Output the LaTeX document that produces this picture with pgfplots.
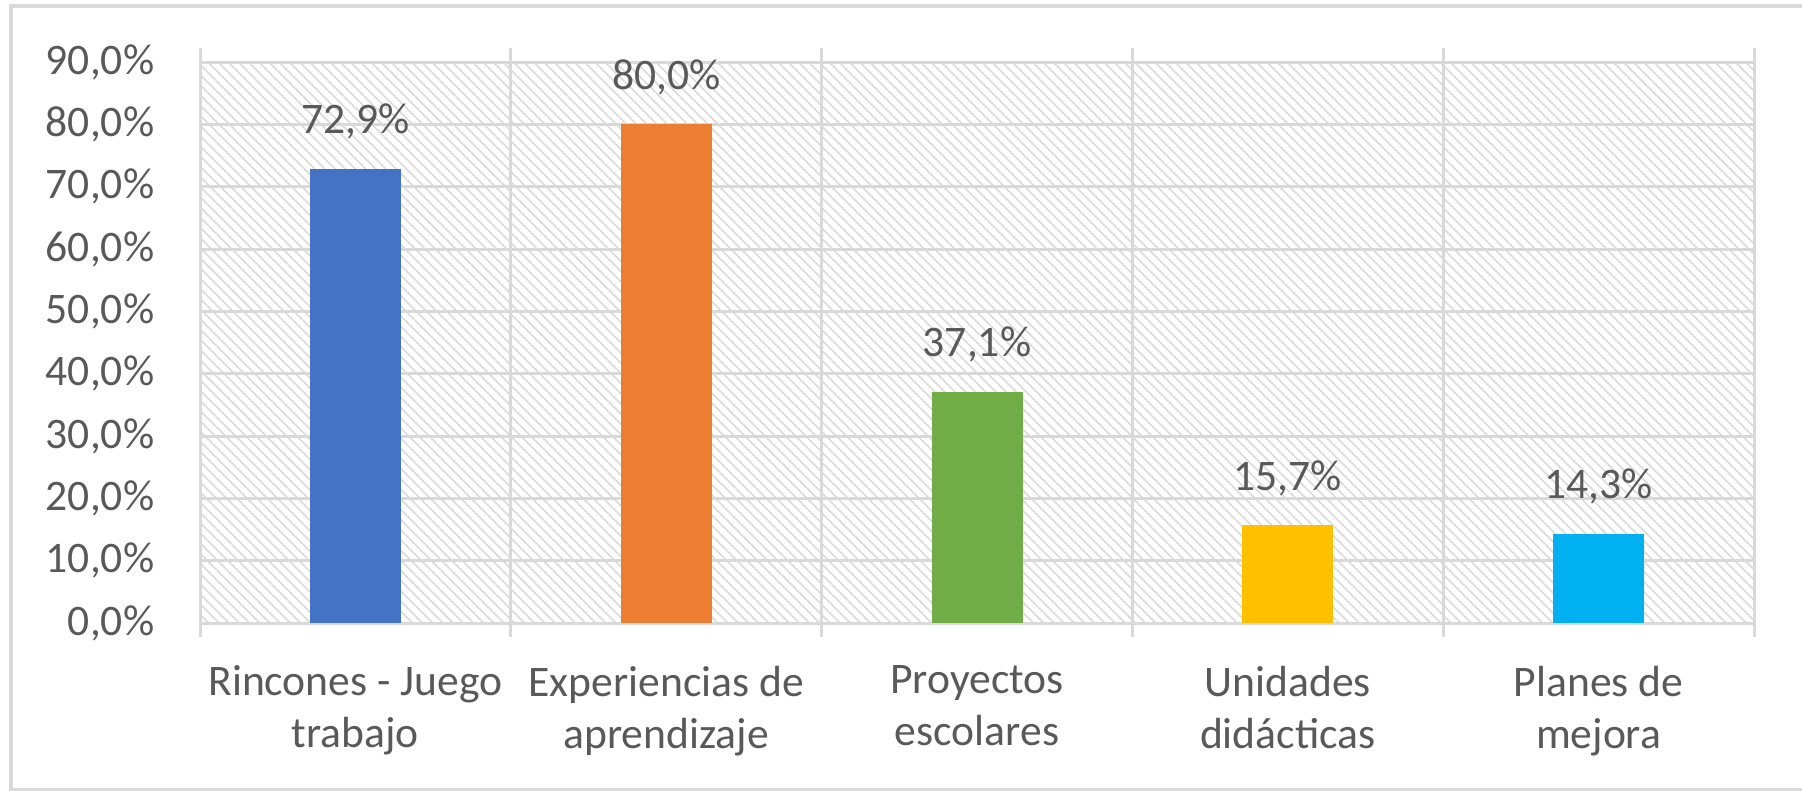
\documentclass[border=0pt]{standalone}
\usepackage{fontspec}
\setmainfont{Carlito}
\usepackage{pgfplots}
\pgfplotsset{compat=1.18}
\usetikzlibrary{patterns.meta}

\definecolor{txt}{HTML}{595959}
\definecolor{grd}{HTML}{D9D9D9}
\definecolor{hatch}{HTML}{DADADA}
\definecolor{c1}{HTML}{4472C4}
\definecolor{c2}{HTML}{ED7D31}
\definecolor{c3}{HTML}{70AD47}
\definecolor{c4}{HTML}{FFC000}
\definecolor{c5}{HTML}{00B0F0}

\begin{document}
\begin{tikzpicture}
% page = 1802 x 791 px at 0.25bp per px
\path[use as bounding box] (0,0) rectangle (450.5bp,197.75bp);
\draw[grd, line width=1bp] (2.75bp,0.3bp) rectangle (460bp,196.3bp);
\begin{axis}[
  at={(50bp,42bp)}, anchor=south west,
  scale only axis, width=388.5bp, height=140.25bp,
  ybar, bar width=22.75bp,
  xmin=-0.5, xmax=4.5, ymin=0, ymax=90,
  xtick={0,1,2,3,4},
  xticklabels={Rincones - Juego\\trabajo, Experiencias de\\aprendizaje, Proyectos\\escolares, Unidades\\didácticas, Planes de\\mejora},
  minor xtick={-0.5,0.5,...,4.5},
  ytick={0,10,...,90},
  yticklabel={\pgfmathprintnumber[fixed,fixed zerofill,precision=1,use comma,assume math mode=true]{\tick}\%},
  major tick length=0pt, minor tick length=3.5bp, tick align=outside,
  minor x tick style={draw=grd, line width=0.75bp},
  ymajorgrids, xminorgrids,
  grid style={draw=grd, line width=0.75bp},
  minor grid style={draw=grd, line width=0.75bp},
  axis line style={draw=grd, line width=0.75bp},
  axis background/.style={pattern={Lines[angle=-45,distance=1.8bp,line width=0.4bp]}, pattern color=hatch},
  font=\fontsize{10.9bp}{13bp}\selectfont,
  every tick label/.append style={text=txt},
  xticklabel style={align=center, anchor=north, inner sep=0pt, yshift=-10.5bp},
  yticklabel style={anchor=east, inner sep=0pt, xshift=-11.25bp},
  nodes near coords={\pgfmathprintnumber[fixed,fixed zerofill,precision=1,use comma,assume math mode=true]{\pgfplotspointmeta}\%},
  every node near coord/.append style={text=txt, anchor=base, inner sep=0pt, yshift=8.75bp},
  bar shift=0pt,
]
\addplot[fill=c1, draw=none] coordinates {(0,72.9)};
\addplot[fill=c2, draw=none] coordinates {(1,80.0)};
\addplot[fill=c3, draw=none] coordinates {(2,37.1)};
\addplot[fill=c4, draw=none] coordinates {(3,15.7)};
\addplot[fill=c5, draw=none] coordinates {(4,14.3)};
\end{axis}
\end{tikzpicture}
\end{document}
